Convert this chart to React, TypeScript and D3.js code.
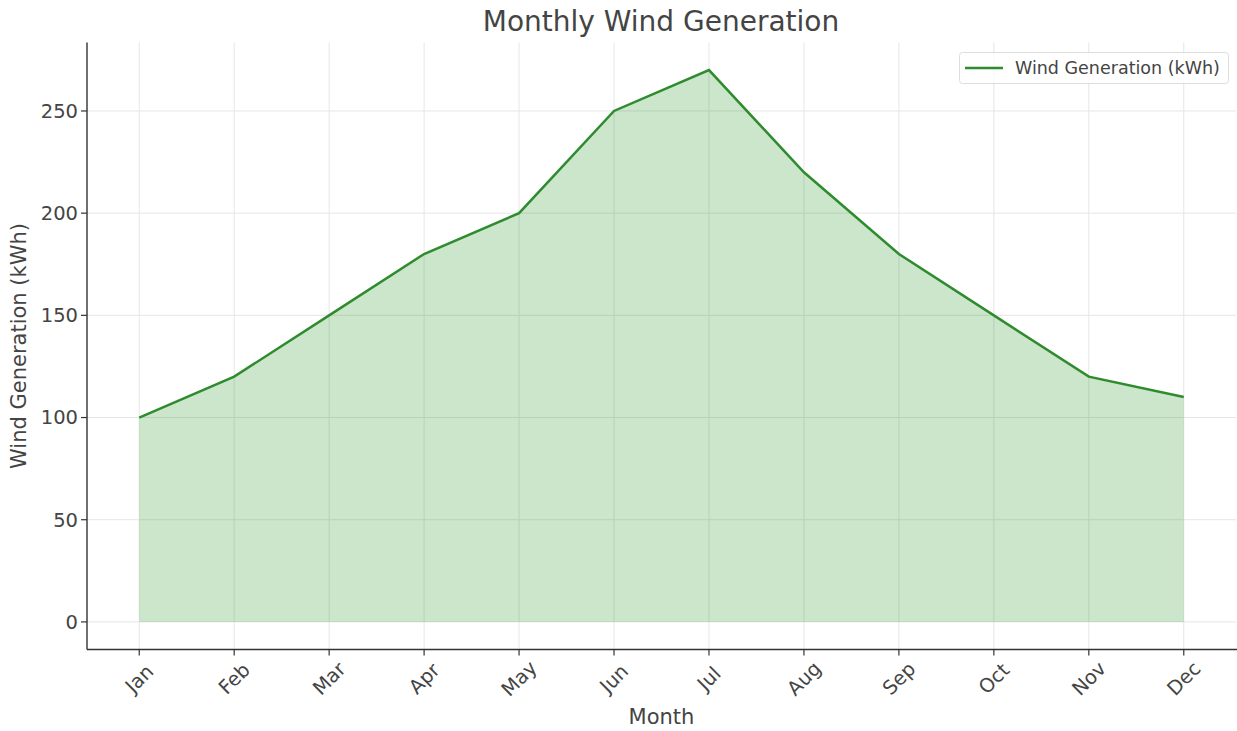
import React from "react";
import * as d3 from "d3";

const months = ["Jan", "Feb", "Mar", "Apr", "May", "Jun", "Jul", "Aug", "Sep", "Oct", "Nov", "Dec"];
const windGeneration = [100, 120, 150, 180, 200, 250, 270, 220, 180, 150, 120, 110];
const yTicks = [0, 50, 100, 150, 200, 250];

const W = 1237;
const H = 731;
const left = 87;
const right = 1236;
const top = 42.5;
const bottom = 649.5;
const font = "DejaVu Sans, sans-serif";
const textColor = "#444";

export default function App() {
  const x = d3.scaleLinear().domain([-0.55, 11.55]).range([left, right]);
  const y = d3.scaleLinear().domain([-13.5, 283.5]).range([bottom, top]);
  const area = d3
    .area<number>()
    .x((_, i) => x(i))
    .y0(y(0))
    .y1((d) => y(d));
  const line = d3
    .line<number>()
    .x((_, i) => x(i))
    .y((d) => y(d));
  const labelY = bottom + 29;

  return (
    <svg width={W} height={H} style={{ position: "absolute", left: 0, top: 0, background: "#fff" }} fontFamily={font}>
      <rect x={0} y={0} width={W} height={H} fill="#fff" />
      {/* grid */}
      {months.map((m, i) => (
        <line key={"gx" + m} x1={x(i)} x2={x(i)} y1={top} y2={bottom} stroke="#e6e6e6" strokeWidth={1} />
      ))}
      {yTicks.map((t) => (
        <line key={"gy" + t} x1={left} x2={right} y1={y(t)} y2={y(t)} stroke="#e6e6e6" strokeWidth={1} />
      ))}
      {/* area */}
      <path d={area(windGeneration) || ""} fill="green" fillOpacity={0.2} />
      <path d={line(windGeneration) || ""} fill="none" stroke="#2e8b2e" strokeWidth={2.5} />
      {/* axes */}
      <line x1={left} x2={left} y1={top} y2={bottom} stroke="#333" strokeWidth={1.4} />
      <line x1={left} x2={right + 1} y1={bottom} y2={bottom} stroke="#333" strokeWidth={1.4} />
      {yTicks.map((t) => (
        <g key={"yt" + t}>
          <line x1={left - 6} x2={left} y1={y(t)} y2={y(t)} stroke="#333" strokeWidth={1.2} />
          <text x={left - 9} y={y(t)} dy="0.35em" textAnchor="end" fontSize={19.5} fill={textColor}>
            {t}
          </text>
        </g>
      ))}
      {months.map((m, i) => (
        <g key={"xt" + m}>
          <line x1={x(i)} x2={x(i)} y1={bottom} y2={bottom + 6} stroke="#333" strokeWidth={1.2} />
          <text
            x={x(i)}
            y={labelY}
            dy="0.35em"
            textAnchor="middle"
            fontSize={19.5}
            fill={textColor}
            transform={`rotate(-45 ${x(i)} ${labelY})`}
          >
            {m}
          </text>
        </g>
      ))}
      {/* labels */}
      <text x={(left + right) / 2} y={717} dy="0.35em" textAnchor="middle" fontSize={21} fill={textColor}>
        Month
      </text>
      <text
        x={19}
        y={(top + bottom) / 2}
        dy="0.35em"
        textAnchor="middle"
        fontSize={21}
        fill={textColor}
        transform={`rotate(-90 19 ${(top + bottom) / 2})`}
      >
        Wind Generation (kWh)
      </text>
      <text x={661} y={21} dy="0.35em" textAnchor="middle" fontSize={28} fill={textColor}>
        Monthly Wind Generation
      </text>
      {/* legend */}
      <g>
        <rect x={959.5} y={52.5} width={269} height={31} rx={3} fill="#fff" fillOpacity={0.8} stroke="#ddd" />
        <line x1={965} x2={1003} y1={68} y2={68} stroke="#2e8b2e" strokeWidth={2.5} />
        <text x={1015} y={68} dy="0.35em" fontSize={17.5} fill={textColor}>
          Wind Generation (kWh)
        </text>
      </g>
    </svg>
  );
}
